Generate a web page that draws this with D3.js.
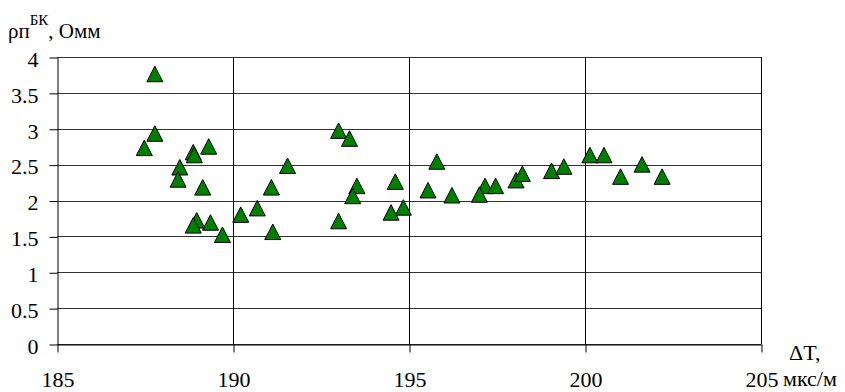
<!DOCTYPE html>
<html>
<head>
<meta charset="utf-8">
<script src="https://cdn.jsdelivr.net/npm/d3@7"></script>
</head>
<body style="margin:0">
<svg id="chart" width="845" height="392" font-family="Liberation Serif"></svg>
<script>
// 1. Data
const dtValues = [
  187.78, 187.78, 187.48, 188.87, 188.90, 189.31, 188.49, 188.44, 189.14,
  191.55, 191.09, 190.69, 190.22, 191.13, 189.70, 189.36, 188.97, 188.87,
  193.00, 193.31, 195.79, 193.52, 193.40, 194.61, 195.54, 196.22, 197.16,
  197.46, 197.00, 198.04, 198.22, 194.49, 194.84, 193.00, 199.05, 199.40,
  200.14, 200.54, 201.01, 201.62, 202.19
];
const rhoValues = [
  3.76, 2.93, 2.73, 2.67, 2.63, 2.75, 2.46, 2.29, 2.18,
  2.48, 2.18, 1.89, 1.80, 1.56, 1.52, 1.69, 1.72, 1.65,
  2.97, 2.86, 2.54, 2.20, 2.06, 2.26, 2.14, 2.07, 2.20,
  2.20, 2.08, 2.28, 2.37, 1.83, 1.90, 1.71, 2.41, 2.47,
  2.63, 2.63, 2.33, 2.50, 2.33
];
const xTicks = [185, 190, 195, 200, 205];
const yTicks = [0, 0.5, 1, 1.5, 2, 2.5, 3, 3.5, 4];

const dataset = dtValues.map((x, i) => ({ x, y: rhoValues[i] }));

// 2. Dimensions
const dims = {
  width: 845,
  height: 392,
  margin: { top: 57, right: 84, bottom: 48, left: 57 },
};
dims.containerWidth = dims.width - dims.margin.left - dims.margin.right;
dims.containerHeight = dims.height - dims.margin.top - dims.margin.bottom;

// 3. Container
const svg = d3.select("#chart");

const container = svg.append("g")
  .attr("transform", `translate(${dims.margin.left},${dims.margin.top})`);

// 4. Scales
const xScale = d3.scaleLinear()
  .domain([185, 205])
  .range([0, dims.containerWidth]);

const yScale = d3.scaleLinear()
  .domain([0, 4])
  .range([dims.containerHeight, 0]);

// 5. Grid
container.append("g")
  .selectAll("line")
  .data(yTicks)
  .join("line")
  .attr("x1", 0)
  .attr("x2", dims.containerWidth)
  .attr("y1", (d) => Math.round(yScale(d)) + 0.5)
  .attr("y2", (d) => Math.round(yScale(d)) + 0.5)
  .attr("stroke", "#333")
  .attr("stroke-width", 1);

container.append("g")
  .selectAll("line")
  .data(xTicks.slice(1))
  .join("line")
  .attr("x1", (d) => Math.round(xScale(d)) + 0.5)
  .attr("x2", (d) => Math.round(xScale(d)) + 0.5)
  .attr("y1", 0)
  .attr("y2", dims.containerHeight)
  .attr("stroke", "#000")
  .attr("stroke-width", 1);

// 6. Axes
const xAxisGroup = container.append("g")
  .attr("transform", `translate(0.5,${Math.round(dims.containerHeight) + 0.5})`)
  .call(d3.axisBottom(xScale).tickValues(xTicks).tickSize(8).tickSizeOuter(0).tickPadding(19));
xAxisGroup.attr("font-family", "Liberation Serif").attr("font-size", 22);
xAxisGroup.selectAll("text")
  .attr("font-family", "Liberation Serif")
  .attr("font-size", 22);
xAxisGroup.select(".domain").attr("stroke", "#000");

const yAxisGroup = container.append("g")
  .attr("transform", "translate(0.5,0.5)")
  .call(d3.axisLeft(yScale).tickValues(yTicks).tickSize(8).tickSizeOuter(0).tickPadding(11)
    .tickFormat((d) => String(d)));
yAxisGroup.attr("font-family", "Liberation Serif").attr("font-size", 22);
yAxisGroup.selectAll("text")
  .attr("font-family", "Liberation Serif")
  .attr("font-size", 22)
  .attr("dy", "0.4em");
yAxisGroup.select(".domain").attr("stroke", "#000");

// units after the last x tick
container.append("text")
  .attr("x", xScale(205) + 22)
  .attr("y", dims.containerHeight + 42)
  .attr("font-family", "Liberation Serif")
  .attr("font-size", 22)
  .text("мкс/м");

// x title
container.append("text")
  .attr("x", xScale(205) + 28)
  .attr("y", dims.containerHeight + 16)
  .attr("font-family", "Liberation Serif")
  .attr("font-size", 22)
  .text("ΔT,");

// y title
const yTitle = svg.append("text")
  .attr("x", 8)
  .attr("y", 38)
  .attr("font-family", "Liberation Serif")
  .attr("font-size", 21);
yTitle.append("tspan").text("ρп");
yTitle.append("tspan").attr("dy", -13).attr("font-size", 15).text("БК");
yTitle.append("tspan").attr("dy", 13).text(", Омм");

// 7. Markers
const triangle = "M0,-8L8,7.5L-8,7.5Z";
container.append("g")
  .selectAll("path")
  .data(dataset)
  .join("path")
  .attr("d", triangle)
  .attr("transform", (d) => `translate(${xScale(d.x)},${yScale(d.y)})`)
  .attr("fill", "#008000")
  .attr("stroke", "#000")
  .attr("stroke-width", 1);
</script>
</body>
</html>
